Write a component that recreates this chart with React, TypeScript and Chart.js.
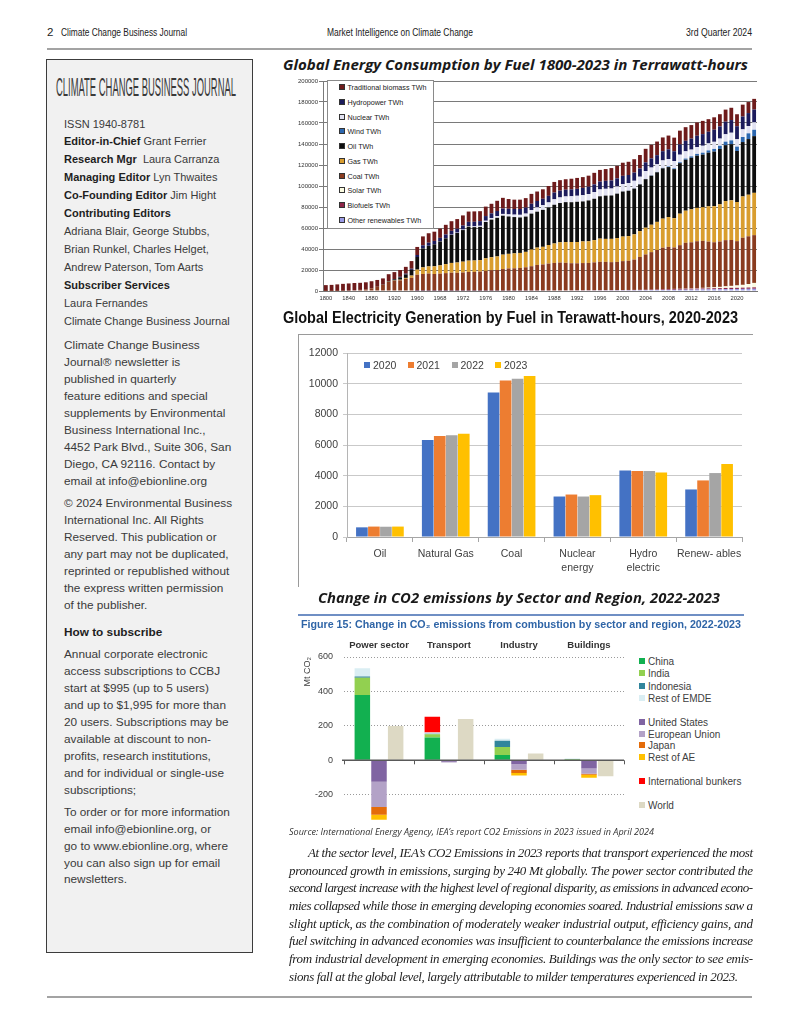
import React, { useEffect, useRef } from 'react';
import { Chart, registerables } from 'chart.js';

Chart.register(...registerables);

const SANS = '"Liberation Sans", Arial, Helvetica, sans-serif';
const NARROW = '"Liberation Sans Narrow", "Liberation Sans", Arial, sans-serif';
const OPEN = '"Open Sans", "Liberation Sans", sans-serif';
const SERIF = '"Liberation Serif", "Times New Roman", serif';
Chart.defaults.font.family = SANS;

// ---------------- Chart 1: Global energy consumption by fuel (TWh) ----------------
const YEARS = [
  '1800','1810','1820','1830','1840','1850','1860','1870','1880','1890','1900','1910','1920','1930','1940','1950','1960',
  '1965','1966','1967','1968','1969','1970','1971','1972','1973','1974',
  '1975','1976','1977','1978','1979','1980','1981','1982','1983','1984',
  '1985','1986','1987','1988','1989','1990','1991','1992','1993','1994',
  '1995','1996','1997','1998','1999','2000','2001','2002','2003','2004',
  '2005','2006','2007','2008','2009','2010','2011','2012','2013','2014',
  '2015','2016','2017','2018','2019','2020','2021','2022','2023',
];
const YEAR_TICK_EVERY = 4;

const OTHER_TWH = [
  0,0,0,0,0,0,0,0,0,0,0,0,0,0,0,0,50,
  100,100,100,110,110,120,120,130,130,140,
  150,160,170,190,220,250,270,290,310,330,
  350,380,410,440,470,500,520,540,560,580,
  600,630,660,690,720,750,770,800,840,870,
  900,950,1000,1060,1120,1200,1260,1330,1400,1480,
  1550,1620,1700,1780,1860,1950,2020,2080,2150,
];
const BIOFUELS_TWH = [
  0,0,0,0,0,0,0,0,0,0,
  0,0,0,0,0,0,0,0,0,0,
  0,0,0,0,0,0,0,0,0,0,
  0,0,
  30,40,50,60,70,80,90,100,100,110,
  120,130,130,140,150,150,160,170,170,180,
  190,210,240,280,320,390,480,600,740,800,
  860,870,880,930,990,1000,1020,1060,1140,1170,
  1080,1150,1230,1300,
];
const SOLAR_TWH = [
  0,0,0,0,0,0,0,0,0,0,
  0,0,0,0,0,0,0,0,0,0,
  0,0,0,0,0,0,0,0,0,0,
  0,0,0,0,0,0,0,0,0,0,
  0,0,0,0,0,0,0,0,0,0,
  0,0,0,0,0,0,0,
  10,15,20,31,52,83,164,260,354,494,
  666,858,1157,1503,1828,2223,2678,3380,4238,
];
const COAL_TWH = [
  100,130,150,260,360,570,1060,1640,2540,3860,5730,8660,9830,10130,11590,12600,15440,
  16100,16500,16100,16400,16900,17300,17200,17500,18000,18000,
  18300,19000,19600,19800,20700,21200,21300,21600,22200,23200,
  24400,24800,25600,26200,26500,26200,25800,25700,25900,26000,
  26500,27000,26900,26600,26800,27500,27800,28900,31300,33600,
  35700,37600,39600,40200,39500,41500,43600,43900,44700,44800,
  43800,42900,43200,44000,43700,42200,44900,45400,45500,
];
const GAS_TWH = [
  0,0,0,0,0,0,0,0,0,60,60,180,230,600,880,2090,4860,
  6300,6800,7300,7900,8600,9300,9800,10300,10800,10900,
  11000,12000,12400,12900,13700,13900,14200,14300,14700,15900,
  16500,16800,17700,18500,19300,19800,20200,20300,20600,20600,
  21200,22100,21900,22200,22700,23400,23500,24000,24600,25500,
  26100,26800,27700,28400,27900,30000,30600,31400,31800,32000,
  33600,34400,35400,37200,37800,37300,39300,39600,40300,
];
const OIL_TWH = [
  0,0,0,0,0,0,0,10,30,90,180,520,1110,2250,3230,5440,12020,
  18100,19500,21000,22800,24600,26700,28100,30100,32400,31800,
  31600,34600,35800,36800,37100,35600,34600,33800,33600,34200,
  34200,35200,35800,36900,37400,38000,37900,38300,38100,38900,
  39400,40300,41200,41300,42300,42900,43200,43600,44500,46200,
  46700,47200,47900,47600,46700,48100,48500,49100,49700,50100,
  51100,52000,52800,53300,53400,48600,51800,53000,54000,
];
const WIND_TWH = [
  0,0,0,0,0,0,0,0,0,0,
  0,0,0,0,0,0,0,0,0,0,
  0,0,0,0,0,0,0,0,0,0,
  0,0,0,0,0,0,0,0,0,0,
  0,0,
  10,11,13,16,19,22,33,41,57,73,
  84,103,140,170,230,280,346,445,572,718,
  889,1136,1357,1664,1851,2163,2501,2964,3302,3692,
  4134,4810,5460,6058,
];
const NUCLEAR_TWH = [
  0,0,0,0,0,0,0,0,0,0,
  0,0,0,0,0,0,0,
  70,95,110,140,170,220,310,420,530,700,
  1040,1150,1400,1620,1680,1990,2300,2520,2830,3470,
  4140,4420,4760,5180,5320,5400,5670,5720,5910,6080,
  6290,6510,6450,6560,6800,6970,7160,7290,7130,7450,
  7480,7280,7070,7120,7020,7180,6890,6420,6470,6600,
  6680,6790,6860,7050,7280,7020,7280,6970,7120,
];
const HYDRO_TWH = [
  0,0,0,0,0,0,0,0,0,10,40,100,250,500,800,1100,1900,
  2840,3010,3080,3230,3450,3630,3780,3940,4000,4380,
  4430,4470,4590,4900,5120,5320,5390,5540,5760,5920,
  6070,6160,6230,6440,6470,6410,6590,6590,6950,7010,
  7370,7480,7600,7690,7720,7880,7720,7840,7880,8350,
  8700,8670,8810,9210,9260,9810,10010,10470,10810,11100,
  11100,11530,11640,11980,12070,12440,12240,12350,12120,
];
const TRAD_BIOMASS_TWH = [
  5500,5700,6150,6540,6840,7030,6740,6650,6730,6490,5990,6540,6580,6520,6500,7270,7680,
  8500,9000,8800,8900,9200,9200,9200,9600,9800,9900,
  9500,9000,9100,9700,10200,9300,8900,8900,9000,9400,
  9000,9000,9400,10100,10000,10000,10100,10400,10300,10500,
  11000,11100,11200,11800,11900,12500,12600,12700,12800,12900,
  13000,13000,13100,13100,13000,13100,13000,12900,12700,12600,
  12000,11800,11600,11500,11700,11400,11300,10500,10200,
];

// stacking order, bottom to top
const ENERGY_SERIES = [
  { label: 'Other renewables TWh', data: OTHER_TWH, color: '#9a9ae6' },
  { label: 'Biofuels TWh', data: BIOFUELS_TWH, color: '#8e2447' },
  { label: 'Solar TWh', data: SOLAR_TWH, color: '#fbfbe0' },
  { label: 'Coal TWh', data: COAL_TWH, color: '#8a3b1f' },
  { label: 'Gas TWh', data: GAS_TWH, color: '#d99d2e' },
  { label: 'Oil TWh', data: OIL_TWH, color: '#0d0d0d' },
  { label: 'Wind TWh', data: WIND_TWH, color: '#2d68b0' },
  { label: 'Nuclear TWh', data: NUCLEAR_TWH, color: '#e2e2f2' },
  { label: 'Hydropower TWh', data: HYDRO_TWH, color: '#1c1b5c' },
  { label: 'Traditional biomass TWh', data: TRAD_BIOMASS_TWH, color: '#6e1b1b' },
];

// ---------------- Chart 2: Electricity generation by fuel ----------------
const ELEC_CATEGORIES: (string | string[])[] = ['Oil', 'Natural Gas', 'Coal', ['Nuclear', 'energy'], ['Hydro', 'electric'], 'Renew- ables'];
const ELEC_YEARS = ['2020', '2021', '2022', '2023'];
const ELEC_2020 = [630, 6330, 9430, 2640, 4340, 3100];
const ELEC_2021 = [680, 6590, 10210, 2770, 4300, 3690];
const ELEC_2022 = [670, 6630, 10320, 2640, 4300, 4170];
const ELEC_2023 = [680, 6740, 10500, 2730, 4210, 4760];
const ELEC_COLORS = ['#4472C4', '#ED7D31', '#A5A5A5', '#FFC000'];

// ---------------- Chart 3: Change in CO2 emissions ----------------
const SECTORS = ['Power sector', 'Transport', 'Industry', 'Buildings'];
const CO2_TICKS = [-200, 0, 200, 400, 600];
const CO2_CHINA = [380, 133, 31, 5];
const CO2_INDIA = [100, 19, 47, 2];
const CO2_INDONESIA = [7, 2, 35, 1];
const CO2_REST_EMDE = [47, 8, 12, 2];
const CO2_BUNKERS = [0, 91, 0, 0];
const CO2_US = [-125, -8, -23, -47];
const CO2_EU = [-146, -4, -32, -31];
const CO2_JAPAN = [-45, 0, -19, -6];
const CO2_REST_AE = [-29, 0, -14, -17];
const CO2_WORLD = [200, 240, 39, -92];

const CO2_SERIES = [
  { label: 'China', data: CO2_CHINA, color: '#12b050', stack: 'emde' },
  { label: 'India', data: CO2_INDIA, color: '#92d050', stack: 'emde' },
  { label: 'Indonesia', data: CO2_INDONESIA, color: '#31859c', stack: 'emde' },
  { label: 'Rest of EMDE', data: CO2_REST_EMDE, color: '#daeef3', stack: 'emde' },
  { label: 'International bunkers', data: CO2_BUNKERS, color: '#ff0000', stack: 'emde' },
  { label: 'United States', data: CO2_US, color: '#8064a2', stack: 'ae' },
  { label: 'European Union', data: CO2_EU, color: '#b3a2c7', stack: 'ae' },
  { label: 'Japan', data: CO2_JAPAN, color: '#e46c0a', stack: 'ae' },
  { label: 'Rest of AE', data: CO2_REST_AE, color: '#ffc000', stack: 'ae' },
  { label: 'World', data: CO2_WORLD, color: '#ddd9c4', stack: 'world' },
];
const CO2_LEGEND: [string, string, number][] = [
  ['China', '#12b050', 662],
  ['India', '#92d050', 674],
  ['Indonesia', '#31859c', 687],
  ['Rest of EMDE', '#daeef3', 699],
  ['United States', '#8064a2', 723],
  ['European Union', '#b3a2c7', 735],
  ['Japan', '#e46c0a', 746],
  ['Rest of AE', '#ffc000', 758],
  ['International bunkers', '#ff0000', 782],
  ['World', '#ddd9c4', 806],
];

// ---------------- helpers ----------------
function ChartBox({ left, top, width, height, make }: any) {
  const ref = useRef<HTMLCanvasElement>(null);
  useEffect(() => {
    const chart = new Chart(ref.current as HTMLCanvasElement, make());
    return () => chart.destroy();
  }, []);
  return (
    <div style={{ position: 'absolute', left, top, width, height }}>
      <canvas ref={ref} style={{ display: 'block' }} />
    </div>
  );
}

function FitText({ x, cy, w, size, text, family = SANS, weight = 'normal', italic = false, color = '#222', adjust = 'spacingAndGlyphs' }: any) {
  const base = cy + size * 0.35;
  const extra: any = w ? { textLength: w, lengthAdjust: adjust } : {};
  return (
    <svg style={{ position: 'absolute', left: x, top: base - size * 1.2, overflow: 'visible' }} width={w || 20} height={size * 1.5}>
      <text x={0} y={size * 1.2} fontFamily={family} fontSize={size} fontWeight={weight} fontStyle={italic ? 'italic' : 'normal'} fill={color} {...extra}>{text}</text>
    </svg>
  );
}

function Txt({ x, cy, size, children, color = '#3a3a3a', family = SANS, lh = 14 }: any) {
  return (
    <div style={{ position: 'absolute', left: x, top: cy - lh / 2, height: lh, lineHeight: lh + 'px', fontSize: size, fontFamily: family, color, whiteSpace: 'nowrap' }}>
      {children}
    </div>
  );
}

const B = ({ children }: any) => <b style={{ color: '#1e1e1e' }}>{children}</b>;

// ---------------- chart configs ----------------
function energyConfig(): any {
  return {
    type: 'bar',
    data: {
      labels: YEARS,
      datasets: ENERGY_SERIES.map((s) => ({
        label: s.label, data: s.data, backgroundColor: s.color, borderWidth: 0,
        categoryPercentage: 0.7, barPercentage: 0.95,
      })),
    },
    options: {
      animation: false, responsive: true, maintainAspectRatio: false,
      layout: { padding: { top: 5, right: 6, left: 0, bottom: 0 } },
      plugins: { legend: { display: false }, tooltip: { enabled: false } },
      scales: {
        x: {
          stacked: true,
          grid: { display: false, drawTicks: false },
          border: { color: '#777' },
          ticks: {
            autoSkip: false, maxRotation: 0, minRotation: 0, padding: 3.5,
            font: { size: 5.8, family: SANS }, color: '#333',
            callback: (_v: any, i: number) => (i % YEAR_TICK_EVERY === 0 ? YEARS[i] : ''),
          },
          afterFit: (s: any) => { s.height = 17; },
        },
        y: {
          stacked: true, min: 0, max: 200000,
          ticks: { stepSize: 20000, font: { size: 6, family: SANS }, color: '#333', padding: 1, callback: (v: any) => String(v) },
          grid: { color: '#7a7a7a', lineWidth: 1, tickLength: 4 },
          border: { color: '#7a7a7a' },
          afterFit: (s: any) => { s.width = 38; },
        },
      },
    },
  };
}

function elecConfig(): any {
  const sets = [ELEC_2020, ELEC_2021, ELEC_2022, ELEC_2023];
  return {
    type: 'bar',
    data: {
      labels: ELEC_CATEGORIES,
      datasets: sets.map((d, i) => ({
        label: ELEC_YEARS[i], data: d, backgroundColor: ELEC_COLORS[i], borderWidth: 0,
        categoryPercentage: 0.73, barPercentage: 0.97,
      })),
    },
    options: {
      animation: false, responsive: true, maintainAspectRatio: false,
      layout: { padding: { top: 18, right: 9, left: 0, bottom: 0 } },
      plugins: { legend: { display: false }, tooltip: { enabled: false } },
      scales: {
        x: {
          grid: { display: true, drawOnChartArea: false, drawTicks: true, tickLength: 5, color: '#a6a6a6', offset: true },
          border: { color: '#a6a6a6' },
          ticks: { autoSkip: false, maxRotation: 0, minRotation: 0, padding: 5, font: { size: 10.5, family: SANS, lineHeight: 1.35 }, color: '#404040' },
          afterFit: (s: any) => { s.height = 49; },
        },
        y: {
          min: 0, max: 12000,
          ticks: { stepSize: 2000, font: { size: 10.5, family: SANS }, color: '#404040', padding: 5, callback: (v: any) => String(v) },
          grid: { color: '#c9c9c9', lineWidth: 1, tickLength: 4 },
          border: { color: '#b5b5b5' },
          afterFit: (s: any) => { s.width = 48; },
        },
      },
    },
  };
}

const zeroLinePlugin = {
  id: 'zeroLine',
  afterDatasetsDraw(chart: any) {
    const { ctx, chartArea, scales } = chart;
    const y = scales.y.getPixelForValue(0);
    ctx.save();
    ctx.strokeStyle = '#595959';
    ctx.lineWidth = 1.5;
    ctx.beginPath();
    ctx.moveTo(chartArea.left - 2, y);
    ctx.lineTo(chartArea.right, y);
    ctx.stroke();
    ctx.lineWidth = 1;
    const xs = scales.x;
    const step = xs.getPixelForValue(1) - xs.getPixelForValue(0);
    for (let i = 0; i <= SECTORS.length; i++) {
      const px = Math.round(xs.getPixelForValue(0) - step / 2 + i * step) + 0.5;
      ctx.beginPath();
      ctx.moveTo(px, y);
      ctx.lineTo(px, y + 4);
      ctx.stroke();
    }
    ctx.restore();
  },
};

function co2Config(): any {
  return {
    type: 'bar',
    data: {
      labels: SECTORS,
      datasets: CO2_SERIES.map((s) => ({
        label: s.label, data: s.data, backgroundColor: s.color, stack: s.stack, borderWidth: 0,
        categoryPercentage: 0.714, barPercentage: 0.93,
      })),
    },
    options: {
      animation: false, responsive: true, maintainAspectRatio: false,
      layout: { padding: { top: 0, right: 2, left: 0, bottom: 0 } },
      plugins: { legend: { display: false }, tooltip: { enabled: false } },
      scales: {
        x: {
          position: 'top', stacked: true,
          grid: { display: false, drawTicks: false },
          border: { display: false },
          ticks: { maxRotation: 0, minRotation: 0, autoSkip: false, padding: 6, font: { size: 9.5, weight: 'bold', family: SANS }, color: '#333' },
          afterFit: (s: any) => { s.height = 22; },
        },
        y: {
          stacked: true, min: -350, max: 600,
          afterBuildTicks: (axis: any) => { axis.ticks = CO2_TICKS.map((v) => ({ value: v })); },
          ticks: { font: { size: 9, family: SANS }, color: '#404040', padding: 11, callback: (v: any) => String(v) },
          grid: { drawTicks: false, lineWidth: 1, color: (c: any) => (c.tick && c.tick.value === 0 ? 'rgba(0,0,0,0)' : '#9a9a9a') },
          border: { display: false, dash: [1, 2] },
          title: { display: true, text: 'Mt CO₂', align: 'end', color: '#404040', font: { size: 9, family: SANS }, padding: { top: 2, bottom: 0 } },
          afterFit: (s: any) => { s.width = 44; },
        },
      },
    },
    plugins: [zeroLinePlugin],
  };
}

// ---------------- text ----------------
const BODY_LINES: [number, number, string][] = [
  [308, 445, 'At the sector level, IEA’s CO2 Emissions in 2023 reports that transport experienced the most'],
  [289, 464, 'pronounced growth in emissions, surging by 240 Mt globally. The power sector contributed the'],
  [289, 464, 'second largest increase with the highest level of regional disparity, as emissions in advanced econo-'],
  [289, 464, 'mies collapsed while those in emerging developing economies soared. Industrial emissions saw a'],
  [289, 464, 'slight uptick, as the combination of moderately weaker industrial output, efficiency gains, and'],
  [289, 464, 'fuel switching in advanced economies was insufficient to counterbalance the emissions increase'],
  [289, 464, 'from industrial development in emerging economies. Buildings was the only sector to see emis-'],
  [289, 449, 'sions fall at the global level, largely attributable to milder temperatures experienced in 2023.'],
];

export default function App() {
  const sideTop: [number, React.ReactNode][] = [
    [123.5, 'ISSN 1940-8781'],
    [141, <><B>Editor-in-Chief</B> Grant Ferrier</>],
    [159, <><B>Research Mgr</B>&nbsp; Laura Carranza</>],
    [177, <><B>Managing Editor</B> Lyn Thwaites</>],
    [195, <><B>Co-Founding Editor</B> Jim Hight</>],
    [213, <B>Contributing Editors</B>],
    [231, 'Adriana Blair, George Stubbs,'],
    [249, 'Brian Runkel, Charles Helget,'],
    [267, 'Andrew Paterson, Tom Aarts'],
    [285, <B>Subscriber Services</B>],
    [303, 'Laura Fernandes'],
    [321, 'Climate Change Business Journal'],
  ];
  const sideLow: [number, React.ReactNode][] = [
    [345, 'Climate Change Business'],
    [362, 'Journal® newsletter is'],
    [379, 'published in quarterly'],
    [396, 'feature editions and special'],
    [413, 'supplements by Environmental'],
    [430, 'Business International Inc.,'],
    [447, '4452 Park Blvd., Suite 306, San'],
    [464, 'Diego, CA 92116. Contact by'],
    [481, 'email at info@ebionline.org'],
    [503, '© 2024 Environmental Business'],
    [520, 'International Inc. All Rights'],
    [537, 'Reserved. This publication or'],
    [554, 'any part may not be duplicated,'],
    [571, 'reprinted or republished without'],
    [588, 'the express written permission'],
    [605, 'of  the publisher.'],
    [632, <B>How to subscribe</B>],
    [653.5, 'Annual corporate electronic'],
    [670.5, 'access subscriptions to CCBJ'],
    [687.5, 'start at $995 (up to 5 users)'],
    [704.5, 'and up to $1,995 for more than'],
    [721.5, '20 users. Subscriptions may be'],
    [738.5, 'available at discount to non-'],
    [755.5, 'profits, research institutions,'],
    [772.5, 'and for individual or single-use'],
    [790, 'subscriptions;'],
    [811.5, 'To order or for more information'],
    [828.5, 'email info@ebionline.org, or'],
    [845.5, 'go to www.ebionline.org, where'],
    [862.5, 'you can also sign up for email'],
    [879, 'newsletters.'],
  ];
  const energyLegend = ENERGY_SERIES.slice().reverse();
  const energyLegendY = [88, 103, 117.5, 132, 147, 161.5, 176.5, 191, 206, 220.5];

  return (
    <div style={{ position: 'absolute', left: 0, top: 0, width: 800, height: 1035, background: '#fff', overflow: 'hidden' }}>
      {/* running header */}
      <FitText x={47} cy={32} size={11.5} text="2" family={NARROW} />
      <FitText x={61} cy={32} w={126} size={11.5} text="Climate Change Business Journal" family={NARROW} />
      <FitText x={327} cy={32} w={146} size={11.5} text="Market Intelligence on Climate Change" family={NARROW} />
      <FitText x={686} cy={32} w={66} size={11.5} text="3rd Quarter 2024" family={NARROW} />
      <div style={{ position: 'absolute', left: 47, top: 48, width: 705, height: 2, background: '#a3a3a3' }} />

      {/* sidebar */}
      <div style={{ position: 'absolute', left: 46, top: 59, width: 207, height: 894, boxSizing: 'border-box', border: '1px solid #3c3c3c', background: '#f1f1f1' }} />
      <FitText x={56} cy={87} w={180} size={25} text="CLIMATE CHANGE BUSINESS JOURNAL" family={NARROW} color="#3a3a3a" />
      {sideTop.map(([y, c], i) => (
        <Txt key={'t' + i} x={64} cy={y} size={11}>{c}</Txt>
      ))}
      {sideLow.map(([y, c], i) => (
        <Txt key={'l' + i} x={64} cy={y} size={11.8}>{c}</Txt>
      ))}

      {/* chart 1 */}
      <FitText x={283} cy={65} w={465} size={15} text="Global Energy Consumption by Fuel 1800-2023 in Terrawatt-hours" family={OPEN} weight="bold" italic color="#1a1a1a" />
      <ChartBox left={285} top={76} width={478} height={232} make={energyConfig} />
      <div style={{ position: 'absolute', left: 327, top: 80, width: 107, height: 149, boxSizing: 'border-box', border: '1px solid #8a8a8a', background: '#fff' }}>
        {energyLegend.map((s, i) => (
          <div key={s.label} style={{ position: 'absolute', left: 11, top: energyLegendY[i] - 80 - 6, height: 10, lineHeight: '10px', whiteSpace: 'nowrap', fontFamily: SANS, fontSize: 7.2, color: '#222' }}>
            <span style={{ display: 'inline-block', width: 4, height: 4, background: s.color, border: '0.7px solid #333', marginRight: 2.5, verticalAlign: 'middle', position: 'relative', top: -1 }} />
            {s.label}
          </div>
        ))}
      </div>

      {/* chart 2 */}
      <FitText x={283} cy={317} w={455} size={16.5} text="Global Electricity Generation by Fuel in Terawatt-hours, 2020-2023" family={NARROW} weight="bold" color="#111" />
      <div style={{ position: 'absolute', left: 298, top: 334, width: 455, height: 253, boxSizing: 'border-box', borderLeft: '1px solid #9a9a9a', borderTop: '1px solid #9a9a9a' }} />
      <ChartBox left={299} top={335} width={452} height={251} make={elecConfig} />
      {ELEC_YEARS.map((yr, i) => (
        <div key={yr} style={{ position: 'absolute', left: [364, 407.5, 451.5, 495][i], top: 357.5, height: 14, lineHeight: '14px', whiteSpace: 'nowrap', fontFamily: SANS, fontSize: 10.5, color: '#404040' }}>
          <span style={{ display: 'inline-block', width: 6, height: 6, background: ELEC_COLORS[i], marginRight: 3, verticalAlign: 'middle', position: 'relative', top: -1 }} />
          {yr}
        </div>
      ))}

      {/* chart 3 */}
      <FitText x={318} cy={598} w={402} size={15} text="Change in CO2 emissions by Sector and Region, 2022-2023" family={OPEN} weight="bold" italic color="#1a1a1a" />
      <div style={{ position: 'absolute', left: 298, top: 614, width: 446, height: 1.5, background: '#6f8fc4' }} />
      <FitText x={301} cy={624.5} w={440} size={10} text="Figure 15:  Change in CO₂ emissions from combustion by sector and region, 2022-2023" family={SANS} weight="bold" color="#2f65a7" />
      <ChartBox left={300} top={635} width={326} height={202} make={co2Config} />
      {CO2_LEGEND.map(([name, color, y]) => (
        <div key={name} style={{ position: 'absolute', left: 639, top: y - 6, height: 12, lineHeight: '12px', whiteSpace: 'nowrap', fontFamily: SANS, fontSize: 10, color: '#404040' }}>
          <span style={{ display: 'inline-block', width: 6, height: 6, background: color, marginRight: 3, verticalAlign: 'middle', position: 'relative', top: -1 }} />
          {name}
        </div>
      ))}

      {/* source + body */}
      <FitText x={289} cy={832} w={365} size={9} text="Source: International Energy Agency, IEA’s report CO2 Emissions in 2023 issued in April 2024" family={OPEN} italic color="#333" />
      {BODY_LINES.map(([x, w, t], i) => (
        <FitText key={'b' + i} x={x} cy={852 + i * 17.7} w={w} size={13} text={t} family={SERIF} italic color="#222" adjust="spacing" />
      ))}
      <div style={{ position: 'absolute', left: 47, top: 996, width: 705, height: 2, background: '#a3a3a3' }} />
    </div>
  );
}
